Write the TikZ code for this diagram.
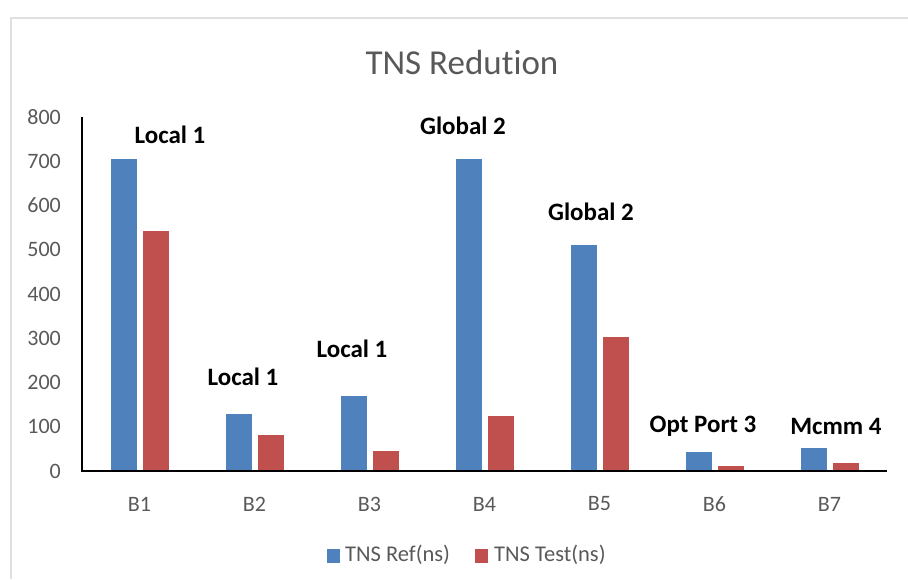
\documentclass[tikz,border=0pt]{standalone}
\usepackage{fontspec}
\setmainfont{Carlito}[Ligatures=NoCommon]
\usepackage{tikz}
\usetikzlibrary{positioning}
\definecolor{refblue}{HTML}{4F81BD}
\definecolor{testred}{HTML}{C0504D}
\definecolor{txtgray}{HTML}{595959}

\begin{document}
\begin{tikzpicture}[x=1pt,y=-1pt]
			\tikzset{tick/.style={text=txtgray, font=\fontsize{22}{24}\selectfont, inner sep=0pt}}
			\tikzset{note/.style={font=\fontsize{25}{27}\selectfont\bfseries, inner sep=0pt}}
			\tikzset{legtext/.style={text=txtgray, font=\fontsize{22.5}{24}\selectfont, inner sep=0pt, anchor=west}}
			\useasboundingbox (0,0) rectangle (908,579);
			%frame
			\draw[gray!25, line width=2pt] (11,579) -- (11,18) -- (908,18);
			%title
			\node[text=txtgray, font=\fontsize{35}{39}\selectfont] (title) at (462,62) {TNS Redution};
			%y ticks
			\foreach \v in {0,100,...,800}
				\node[tick, anchor=east] (y\v) at (61,{471-0.4425*\v}) {\v};
			%bars
			\foreach \i/\a/\b in {1/705/542, 2/129/81, 3/170/45, 4/705/124, 5/511/303, 6/43/11, 7/52/18} {
				\pgfmathsetmacro{\c}{82+115*(\i-0.5)}
				\fill[refblue] ({\c-29},{471-0.4425*\a}) rectangle ({\c-3},471);
				\fill[testred] ({\c+3},{471-0.4425*\b}) rectangle ({\c+29},471);
				\node[tick] (b\i) at (\c,504) {B\i};
			}
			%axes
			\coordinate (o) at (82,471);
			\coordinate (top) at (82,117);
			\coordinate (end) at (887,471);
			\draw[line width=1.2pt] (top) -- (o) -- (end);
			%notes
			\node[note] (n1) at (170,135) {Local 1};
			\node[note] (n2) at (243,377) {Local 1};
			\node[note] (n3) at (352,349) {Local 1};
			\node[note] (n4) at (463,126) {Global 2};
			\node[note] (n5) at (591,212) {Global 2};
			\node[note] (n6) at (703,426) {Opt Port 3};
			\node[note] (n7) at (836,426) {Mcmm 4};
			%legend
			\fill[refblue] (327,549) rectangle (340,563);
			\node[legtext] (lref) at (345,555) {TNS Ref(ns)};
			\fill[testred] (475,549) rectangle (488,563);
			\node[legtext] (ltest) at (494,555) {TNS Test(ns)};
\end{tikzpicture}
\end{document}
